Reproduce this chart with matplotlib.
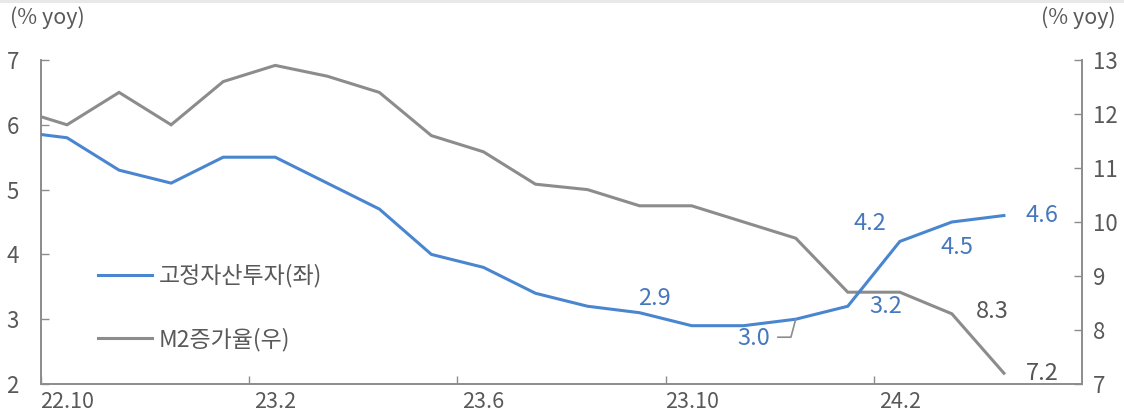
import matplotlib
matplotlib.use("Agg")
import matplotlib.pyplot as plt
from matplotlib.lines import Line2D

plt.rcParams['font.family'] = ['Noto Sans CJK KR', 'DejaVu Sans']

months = ['22.9', '22.10', '22.11', '22.12', '23.1', '23.2', '23.3', '23.4', '23.5', '23.6',
          '23.7', '23.8', '23.9', '23.10', '23.11', '23.12', '24.1', '24.2', '24.3', '24.4']
fai = [5.9, 5.8, 5.3, 5.1, 5.5, 5.5, 5.1, 4.7, 4.0, 3.8,
       3.4, 3.2, 3.1, 2.9, 2.9, 3.0, 3.2, 4.2, 4.5, 4.6]
m2 = [12.1, 11.8, 12.4, 11.8, 12.6, 12.9, 12.7, 12.4, 11.6, 11.3,
      10.7, 10.6, 10.3, 10.3, 10.0, 9.7, 8.7, 8.7, 8.3, 7.2]
tick_labels = ['22.10', '23.2', '23.6', '23.10', '24.2']
label_left = ['2', '3', '4', '5', '6', '7']
label_right = ['7', '8', '9', '10', '11', '12', '13']

BLUE = '#4a86d0'
LBLUE = '#4678bd'
GRAY = '#8c8c8c'
TXT = '#595959'
AX = '#8c8c8c'

fig = plt.figure(figsize=(11.24, 4.17), dpi=100)
ax = fig.add_axes([41/1124, 33/417, (1082-41)/1124, (384-60)/417])
ax2 = ax.twinx()

x = list(range(len(months)))
ax.plot(x, fai, color=BLUE, lw=2.2, solid_joinstyle='miter', zorder=3)
ax2.plot(x, m2, color=GRAY, lw=2.2, solid_joinstyle='miter', zorder=2)
ax.set_zorder(ax2.get_zorder() + 1)
ax.patch.set_visible(False)

ax.set_xlim(0.5, 20.5)
ax.set_ylim(2, 7)
ax2.set_ylim(7, 13)

ax.set_yticks([float(v) for v in label_left])
ax.set_yticklabels(label_left)
ax2.set_yticks([float(v) for v in label_right])
ax2.set_yticklabels(label_right)

# x ticks between categories, labels at category centers
tick_idx = [months.index(t) for t in tick_labels]
ax.set_xticks([i - 0.5 for i in tick_idx])
ax.set_xticklabels([])
ax.set_xticks(tick_idx, minor=True)
ax.set_xticklabels(tick_labels, minor=True)
ax.tick_params(axis='x', which='minor', length=0, pad=5, labelsize=15.5, labelcolor=TXT)
ax.tick_params(axis='x', which='major', direction='in', length=6, color=AX, width=1)
ax.tick_params(axis='y', direction='in', length=6, color=AX, width=1, labelsize=16, labelcolor=TXT, pad=16)
ax2.tick_params(axis='y', direction='in', length=6, color=AX, width=1, labelsize=16, labelcolor=TXT, pad=8)

for a in (ax, ax2):
    for s in a.spines.values():
        s.set_color(AX)
        s.set_linewidth(1.2)
    a.spines['top'].set_visible(False)

fig.text(10/1124, 1 - 18/417, '(% yoy)', fontsize=15.5, color=TXT, va='center', ha='left')
fig.text(1116/1124, 1 - 18/417, '(% yoy)', fontsize=15.5, color=TXT, va='center', ha='right')

# data labels
def lab(a, i, v, dx, dy, color):
    a.annotate(f'{v:.1f}', xy=(i, v), xytext=(dx, dy), textcoords='offset pixels',
               ha='center', va='center', fontsize=17, color=color, zorder=5)

lab(ax, 13, fai[13], -37, 27, LBLUE)
lab(ax, 16, fai[16], 38, 0, LBLUE)
lab(ax, 17, fai[17], -30, 18, LBLUE)
lab(ax, 18, fai[18], 5, -25, LBLUE)
lab(ax, 19, fai[19], 38, 0, LBLUE)
lab(ax2, 18, m2[18], 40, 2, '#555555')
lab(ax2, 19, m2[19], 38, 0, '#555555')
# 3.0 label with leader line
ax.annotate('3.0', xy=(15, fai[15]), xytext=(-42, -19), textcoords='offset pixels',
            ha='center', va='center', fontsize=17, color=LBLUE, zorder=5)
ax.annotate('', xy=(15, fai[15]), xytext=(-18, -18), textcoords='offset pixels',
            arrowprops=dict(arrowstyle='-', color=GRAY, lw=1.2,
                            connectionstyle='angle,angleA=0,angleB=75,rad=0',
                            shrinkA=0, shrinkB=0), zorder=4)

# legend
leg_handles = [Line2D([0], [0], color=BLUE, lw=2.2), Line2D([0], [0], color=GRAY, lw=2.2)]
leg = ax.legend(leg_handles, ['고정자산투자(좌)', 'M2증가율(우)'], loc='upper left',
                bbox_to_anchor=((98-41)/1041, (384-264)/324), frameon=False,
                prop={'size': 16.5},
                borderpad=0, borderaxespad=0,
                handlelength=2.35, handletextpad=0.3, labelspacing=1.75, labelcolor=TXT)

fig.add_artist(Line2D([0, 1], [1 - 1/417, 1 - 1/417], color='#e8e8e8', lw=3, transform=fig.transFigure))

fig.savefig('out.png', dpi=100)
